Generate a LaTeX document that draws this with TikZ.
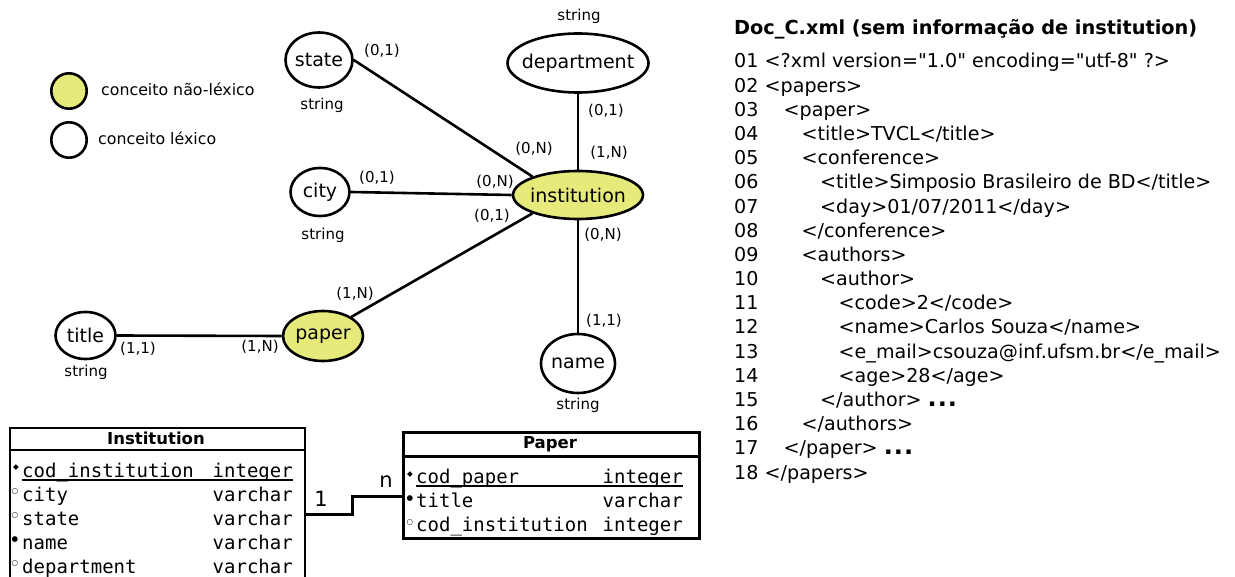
\documentclass[tikz,border=0pt]{standalone}
\usepackage{fontspec}
\setmainfont{DejaVu Sans}[Ligatures=TeXOff]
\setmonofont{DejaVu Sans Mono}
\usetikzlibrary{shapes.geometric}
\definecolor{nlyellow}{RGB}{230,234,122}
\newcommand\fsz[1]{\fontsize{#1}{#1}\selectfont}
\newcommand\xmlline[4]{\node[xmltext] (n#1) at (734,#2) {#1};\node[xmltext] (t#1) at (#3,#2) {#4};}
\newcommand\xdots{{\bfseries\fsz{24}.\kern1pt.\kern1pt.}}
\begin{document}
\begin{tikzpicture}[x=1pt,y=-1pt,
  ent/.style={ellipse,draw,line width=2.6pt,inner sep=0pt,font=\fsz{19}},
  nlex/.style={ent,fill=nlyellow},
  lex/.style={ent,fill=white},
  lbl/.style={inner sep=0pt,font=\fsz{15}},
  conn/.style={line width=2.6pt},
  xmltext/.style={inner sep=0pt,anchor=base west,font=\fsz{19.1}},
  tbox/.style={draw,line width=2.6pt,anchor=north west,inner sep=0pt},
  thead/.style={inner sep=0pt,font=\bfseries\fsz{16.5}},
  rowl/.style={inner sep=0pt,anchor=base west,font=\ttfamily\fsz{19}},
  rowr/.style={inner sep=0pt,anchor=base east,font=\ttfamily\fsz{19}},
  mk/.style={inner sep=0pt,font=\fsz{7.5}},
  legc/.style={circle,draw,line width=2.6pt,minimum size=35.4pt,inner sep=0pt}]
\useasboundingbox (0,0) rectangle (1235,577);
\fill[white] (0,0) rectangle (1235,577);

% legend
\node[legc,fill=nlyellow] (legnl) at (69,91) {};
\node[legc,fill=white] (legl) at (69,140) {};
\node[inner sep=0pt,anchor=west,font=\fsz{15.8}] (legnltxt) at (101,89) {conceito não-léxico};
\node[inner sep=0pt,anchor=west,font=\fsz{15.8}] (legltxt) at (98,138) {conceito léxico};

% ER diagram
\node[lex,minimum width=67pt,minimum height=55pt] (state) at (319,60) {\makebox[0pt]{state}};
\node[lex,minimum width=141pt,minimum height=59pt] (department) at (578,63) {\makebox[0pt]{department}};
\node[nlex,minimum width=130pt,minimum height=48pt] (institution) at (578,195) {\makebox[0pt]{institution}};
\node[lex,minimum width=59pt,minimum height=48pt] (city) at (320,192) {\makebox[0pt]{city}};
\node[nlex,minimum width=80pt,minimum height=50pt] (paper) at (323,336) {\makebox[0pt]{paper}};
\node[lex,minimum width=74pt,minimum height=59pt] (name) at (578,363.5) {\makebox[0pt]{name}};
\node[lex,minimum width=60pt,minimum height=47pt] (title) at (85.5,335.5) {\makebox[0pt]{title}};

\draw[conn] (state.east) -- (institution.158);
\draw[conn] (department.south) -- (institution.north);
\draw[conn] (city.east) -- (institution.west);
\draw[conn] (paper.34) -- (institution.202);
\draw[conn] (institution.south) -- (name.north);
\draw[conn] (title.east) -- (paper.west);

\node[lbl] (sdep) at (579,16) {string};
\node[lbl] (c1) at (382,51) {(0,1)};
\node[lbl] (sstate) at (322,105) {string};
\node[lbl] (c2) at (606,111) {(0,1)};
\node[lbl] (c3) at (534,149) {(0,N)};
\node[lbl] (c4) at (609,153) {(1,N)};
\node[lbl] (c5) at (377,178) {(0,1)};
\node[lbl] (c6) at (495,182) {(0,N)};
\node[lbl] (c7) at (492,216) {(0,1)};
\node[lbl] (scity) at (323,235) {string};
\node[lbl] (c8) at (603,235) {(0,N)};
\node[lbl] (c9) at (355,294) {(1,N)};
\node[lbl] (c10) at (604,321) {(1,1)};
\node[lbl] (c11) at (138,349) {(1,1)};
\node[lbl] (c12) at (260,347) {(1,N)};
\node[lbl] (stitle) at (86,372) {string};
\node[lbl] (sname) at (578,405) {string};

% tables
\node[tbox,minimum width=295pt,minimum height=200pt] (itab) at (8.5,426.5) {};
\draw[line width=2.6pt] (8.5,450) -- (303.5,450);
\node[thead] (ihead) at (156,438.5) {Institution};
\node[mk] (im1) at (16,468) {◆};
\node[rowl] (i1n) at (22,477) {cod\_institution};
\node[rowr] (i1t) at (293,477) {integer};
\draw[line width=1.3pt] (22,480) -- (293,480);
\node[mk] (im2) at (15,492) {○};
\node[rowl] (i2n) at (22,501) {city};
\node[rowr] (i2t) at (293,501) {varchar};
\node[mk] (im3) at (15,516) {○};
\node[rowl] (i3n) at (22,525) {state};
\node[rowr] (i3t) at (293,525) {varchar};
\node[mk] (im4) at (15,540) {●};
\node[rowl] (i4n) at (22,549) {name};
\node[rowr] (i4t) at (293,549) {varchar};
\node[mk] (im5) at (15,564) {○};
\node[rowl] (i5n) at (22,573) {department};
\node[rowr] (i5t) at (293,573) {varchar};

\node[tbox,minimum width=296pt,minimum height=106pt] (ptab) at (402,431) {};
\draw[line width=2.6pt] (402,456.5) -- (698,456.5);
\node[thead] (phead) at (550,444) {Paper};
\node[mk] (pm1) at (410,475) {◆};
\node[rowl] (p1n) at (416,483) {cod\_paper};
\node[rowr] (p1t) at (683,483) {integer};
\draw[line width=1.3pt] (416,486) -- (683,486);
\node[mk] (pm2) at (410,499) {●};
\node[rowl] (p2n) at (416,507) {title};
\node[rowr] (p2t) at (683,507) {varchar};
\node[mk] (pm3) at (410,523) {○};
\node[rowl] (p3n) at (416,531) {cod\_institution};
\node[rowr] (p3t) at (683,531) {integer};

\draw[conn] (itab.east |- 0,514.5) -- (352.7,514.5) -- (352.7,496.7) -- (ptab.west |- 0,496.7);
\node[inner sep=0pt,anchor=base,font=\fsz{21}] (one) at (321,506) {1};
\node[inner sep=0pt,anchor=base,font=\fsz{21}] (enn) at (386,487) {n};

% XML
\node[inner sep=0pt,anchor=base west,font=\bfseries\fsz{19.3}] (doctitle) at (734,35) {Doc\_C.xml (sem informação de institution)};
\xmlline{01}{68}{764.5}{<?xml version="1.0" encoding="utf-8" ?>}
\xmlline{02}{92.2}{764.5}{<papers>}
\xmlline{03}{116.4}{783.5}{<paper>}
\xmlline{04}{140.5}{801.5}{<title>TVCL</title>}
\xmlline{05}{164.7}{801.5}{<conference>}
\xmlline{06}{188.9}{820}{<title>Simposio Brasileiro de BD</title>}
\xmlline{07}{213.1}{820}{<day>01/07/2011</day>}
\xmlline{08}{237.3}{801.5}{</conference>}
\xmlline{09}{261.4}{801.5}{<authors>}
\xmlline{10}{285.6}{820}{<author>}
\xmlline{11}{309.8}{838.5}{<code>2</code>}
\xmlline{12}{334}{838.5}{<name>Carlos Souza</name>}
\xmlline{13}{358.2}{838.5}{<e\_mail>csouza@inf.ufsm.br</e\_mail>}
\xmlline{14}{382.3}{838.5}{<age>28</age>}
\xmlline{15}{406.5}{820}{</author> \xdots}
\xmlline{16}{430.7}{801.5}{</authors>}
\xmlline{17}{454.9}{783.5}{</paper> \xdots}
\xmlline{18}{479.1}{764.5}{</papers>}
\end{tikzpicture}
\end{document}
